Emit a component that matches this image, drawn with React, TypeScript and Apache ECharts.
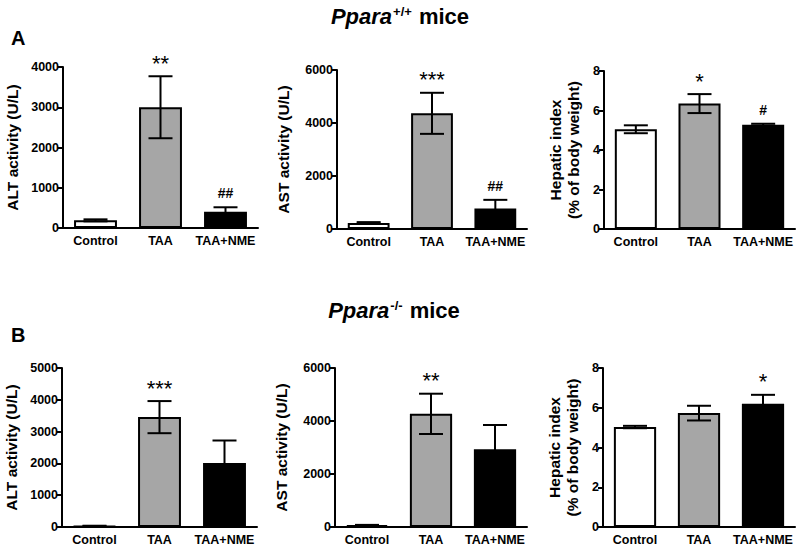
import React, { useEffect, useRef } from "react";
import * as echarts from "echarts";

const categories = ["Control", "TAA", "TAA+NME"];
const barColors = ["#ffffff", "#a6a6a6", "#000000"];

// Panel A (Ppara+/+)
const altA = [190, 3000, 405];
const altALo = [165, 2230, 290];
const altAHi = [215, 3770, 515];
const altAMarks = ["", "**", "##"];

const astA = [230, 4370, 770];
const astALo = [200, 3590, 440];
const astAHi = [260, 5140, 1100];
const astAMarks = ["", "***", "##"];

const hepA = [5.05, 6.35, 5.28];
const hepALo = [4.85, 5.87, 5.23];
const hepAHi = [5.25, 6.83, 5.33];
const hepAMarks = ["", "*", "#"];

// Panel B (Ppara-/-)
const altB = [30, 3460, 2010];
const altBLo = [20, 2950, 1300];
const altBHi = [40, 3960, 2720];
const altBMarks = ["", "***", ""];

const astB = [70, 4270, 2930];
const astBLo = [60, 3510, 2010];
const astBHi = [80, 5030, 3850];
const astBMarks = ["", "**", ""];

const hepB = [5.03, 5.73, 6.2];
const hepBLo = [4.97, 5.36, 5.75];
const hepBHi = [5.09, 6.1, 6.65];
const hepBMarks = ["", "", "*"];

const FONT = "Liberation Sans, Arial, sans-serif";

type Panel = {
  vals: number[];
  lo: number[];
  hi: number[];
  marks: string[];
  max: number;
  interval: number;
  name: string;
  grid: { left: number; top: number; width: number; height: number };
  nameGap: number;
};

const panels: Panel[] = [
  { vals: altA, lo: altALo, hi: altAHi, marks: altAMarks, max: 4000, interval: 1000, name: "ALT activity (U/L)", grid: { left: 63, top: 67, width: 195, height: 161 }, nameGap: 42 },
  { vals: astA, lo: astALo, hi: astAHi, marks: astAMarks, max: 6000, interval: 2000, name: "AST activity (U/L)", grid: { left: 337, top: 70, width: 190, height: 159 }, nameGap: 45 },
  { vals: hepA, lo: hepALo, hi: hepAHi, marks: hepAMarks, max: 8, interval: 2, name: "Hepatic index\n(% of body weight)", grid: { left: 604, top: 71, width: 191, height: 158 }, nameGap: 22 },
  { vals: altB, lo: altBLo, hi: altBHi, marks: altBMarks, max: 5000, interval: 1000, name: "ALT activity (U/L)", grid: { left: 62, top: 368, width: 195, height: 159 }, nameGap: 42 },
  { vals: astB, lo: astBLo, hi: astBHi, marks: astBMarks, max: 6000, interval: 2000, name: "AST activity (U/L)", grid: { left: 335, top: 368, width: 192, height: 159 }, nameGap: 45 },
  { vals: hepB, lo: hepBLo, hi: hepBHi, marks: hepBMarks, max: 8, interval: 2, name: "Hepatic index\n(% of body weight)", grid: { left: 603, top: 368, width: 192, height: 159 }, nameGap: 22 },
];

export default function App() {
  const ref = useRef<HTMLDivElement>(null);
  useEffect(() => {
    if (!ref.current) return;
    const chart = echarts.init(ref.current, null, { renderer: "svg" });
    const grids: any[] = [];
    const xAxes: any[] = [];
    const yAxes: any[] = [];
    const series: any[] = [];
    panels.forEach((p, k) => {
      grids.push({ ...p.grid, containLabel: false });
      xAxes.push({
        type: "category",
        gridIndex: k,
        data: categories,
        axisLine: { lineStyle: { color: "#000", width: 2 } },
        axisTick: { alignWithLabel: true, length: 4, lineStyle: { color: "#000", width: 2 } },
        axisLabel: { color: "#000", fontWeight: "bold", fontSize: 12.5, fontFamily: FONT, margin: 6, interval: 0 },
      });
      yAxes.push({
        type: "value",
        gridIndex: k,
        min: 0,
        max: p.max,
        interval: p.interval,
        name: p.name,
        nameLocation: "middle",
        nameGap: p.nameGap,
        nameTextStyle: { color: "#000", fontWeight: "bold", fontSize: 15.5, fontFamily: FONT, lineHeight: 18 },
        axisLine: { show: true, lineStyle: { color: "#000", width: 2 } },
        axisTick: { show: true, length: 5, lineStyle: { color: "#000", width: 2 } },
        axisLabel: {
          color: "#000",
          fontWeight: "bold",
          fontSize: 12.5,
          fontFamily: FONT,
          margin: 4,
          formatter: (v: number) => String(v),
        },
        splitLine: { show: false },
      });
      series.push({
        type: "bar",
        xAxisIndex: k,
        yAxisIndex: k,
        barWidth: "66%",
        data: p.vals.map((v, i) => ({
          value: v,
          itemStyle: { color: barColors[i], borderColor: "#000", borderWidth: 2 },
        })),
      });
      series.push({
        type: "custom",
        xAxisIndex: k,
        yAxisIndex: k,
        z: 5,
        data: p.vals.map((_, i) => [i, p.lo[i], p.hi[i]]),
        renderItem: (params: any, api: any) => {
          const i = api.value(0);
          const pLo = api.coord([i, api.value(1)]);
          const pHi = api.coord([i, api.value(2)]);
          const half = 12;
          const st = { stroke: "#000", lineWidth: 2 };
          const mark = p.marks[params.dataIndex];
          const children: any[] = [
            { type: "line", shape: { x1: pLo[0], y1: pLo[1], x2: pHi[0], y2: pHi[1] }, style: st },
            { type: "line", shape: { x1: pHi[0] - half, y1: pHi[1], x2: pHi[0] + half, y2: pHi[1] }, style: st },
            { type: "line", shape: { x1: pLo[0] - half, y1: pLo[1], x2: pLo[0] + half, y2: pLo[1] }, style: st },
          ];
          if (mark) {
            const isStar = mark.indexOf("*") >= 0;
            children.push({
              type: "text",
              x: pHi[0],
              y: pHi[1] - (isStar ? 2 : 7),
              style: {
                text: mark,
                fill: "#000",
                fontSize: isStar ? 22 : 14,
                fontWeight: isStar ? "normal" : "bold",
                fontFamily: FONT,
                align: "center",
                verticalAlign: "bottom",
              },
            });
          }
          return { type: "group", children };
        },
      });
    });

    const titleRich = {
      it: { fontSize: 22, fontWeight: "bold", fontStyle: "italic", fontFamily: FONT, color: "#000" },
      sup: { fontSize: 13, fontWeight: "bold", fontFamily: FONT, color: "#000", verticalAlign: "top", padding: [0, 1, 8, 1] },
      n: { fontSize: 22, fontWeight: "bold", fontFamily: FONT, color: "#000" },
    };

    chart.setOption({
      animation: false,
      backgroundColor: "#ffffff",
      title: [
        { text: "{it|Ppara}{sup|+/+}{n| mice}", left: 395, top: 0, textAlign: "center", textStyle: { rich: titleRich } },
        { text: "{it|Ppara}{sup|-/-}{n| mice}", left: 389, top: 294, textAlign: "center", textStyle: { rich: titleRich } },
        { text: "A", left: 6, top: 23, textStyle: { fontSize: 20, fontWeight: "bold", fontFamily: FONT, color: "#000" } },
        { text: "B", left: 6, top: 320, textStyle: { fontSize: 20, fontWeight: "bold", fontFamily: FONT, color: "#000" } },
      ],
      grid: grids,
      xAxis: xAxes,
      yAxis: yAxes,
      series,
    });
    return () => chart.dispose();
  }, []);
  return <div ref={ref} style={{ position: "absolute", left: 0, top: 0, width: 800, height: 550 }} />;
}
